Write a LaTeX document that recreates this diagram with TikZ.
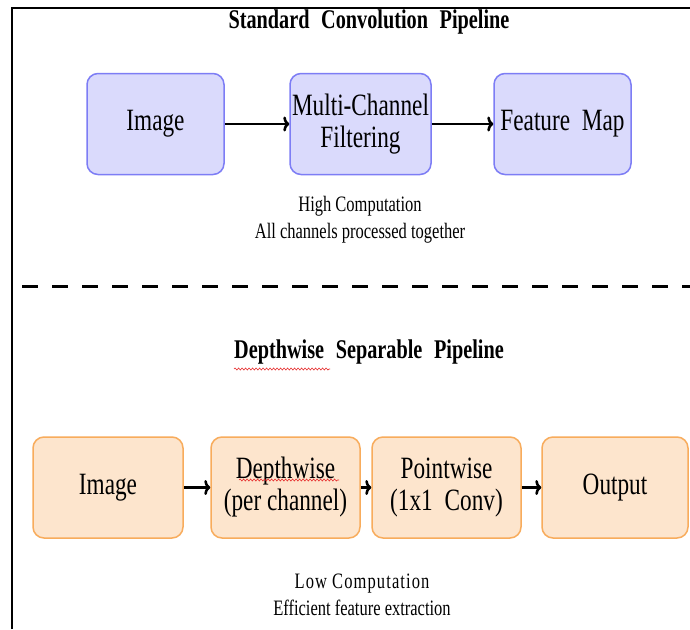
\documentclass[tikz,border=0pt]{standalone}
\usepackage{fontspec}
\setmainfont{Liberation Serif}[FakeStretch=0.75]
\newfontfamily\titlefont{Liberation Serif}[FakeStretch=0.75,WordSpace=2.3]
\newfontfamily\lowfont{Liberation Serif}[FakeStretch=0.75,LetterSpace=5]
\usetikzlibrary{arrows.meta,decorations.pathmorphing}
\definecolor{bluefill}{RGB}{218,218,252}
\definecolor{blueline}{RGB}{125,125,245}
\definecolor{orfill}{RGB}{253,229,205}
\definecolor{orline}{RGB}{248,172,92}
\definecolor{spellred}{RGB}{230,40,40}
\begin{document}
\begin{tikzpicture}[x=1pt,y=-1pt,
  boxbase/.style={line width=1.5pt, rounded corners=11pt, minimum height=101pt,
    inner sep=0pt, align=center, font=\fontsize{31}{32}\selectfont},
  bluebox/.style={boxbase, draw=blueline, fill=bluefill},
  orbox/.style={boxbase, draw=orline, fill=orfill},
  flow/.style={line width=2.6pt, -{To[length=6pt,width=15pt]}},
  titletext/.style={font=\titlefont\bfseries\fontsize{27}{29}\selectfont},
  note/.style={font=\fontsize{22}{27}\selectfont, align=center, inner sep=0pt},
  spell/.style={spellred, line width=0.6pt, decorate,
    decoration={snake, amplitude=1pt, segment length=3.5pt}}]
\useasboundingbox (0,0) rectangle (690,629);
\fill[white] (0,0) rectangle (690,629);
% frame
\draw[line width=2pt, line join=miter] (12,629) -- (12,8) -- (690,8);

% standard pipeline
\node[titletext] (t1) at (369,22) {Standard Convolution Pipeline};
\node[bluebox, minimum width=137pt] (img1) at (155.5,124) {Image};
\node[bluebox, minimum width=141pt] (multi) at (360.5,124) {Multi-Channel\\Filtering};
\node[bluebox, minimum width=137pt] (fmap) at (562.5,124) {Feature\hspace{6pt} Map};
\draw[flow] (img1) -- (multi);
\draw[flow] (multi) -- (fmap);
\node[note] (n1) at (360,220) {High Computation\\All channels processed together};

% separator
\draw[line width=3pt, dash pattern=on 16pt off 14pt] (22,286) -- (690,286);

% depthwise pipeline
\node[titletext] (t2) at (369,352) {Depthwise Separable Pipeline};
\node[orbox, minimum width=150pt] (img2) at (108,487.5) {Image};
\node[orbox, minimum width=149pt] (dw) at (285.5,487.5) {Depthwise\\(per channel)};
\node[orbox, minimum width=149pt] (pw) at (446.5,487.5) {Pointwise\\(1x1\hspace{6pt} Conv)};
\node[orbox, minimum width=146pt] (out) at (615,487.5) {Output};
\draw[flow] (img2) -- (dw);
\draw[flow] (dw) -- (pw);
\draw[flow] (pw) -- (out);
\node[note] (n2) at (362,595) {{\lowfont Low Computation}\\Efficient feature extraction};

% spell-check underlines
\draw[spell] (234,369) -- (330,369);
\draw[spell] (239,480) -- (339,480);
\end{tikzpicture}
\end{document}
